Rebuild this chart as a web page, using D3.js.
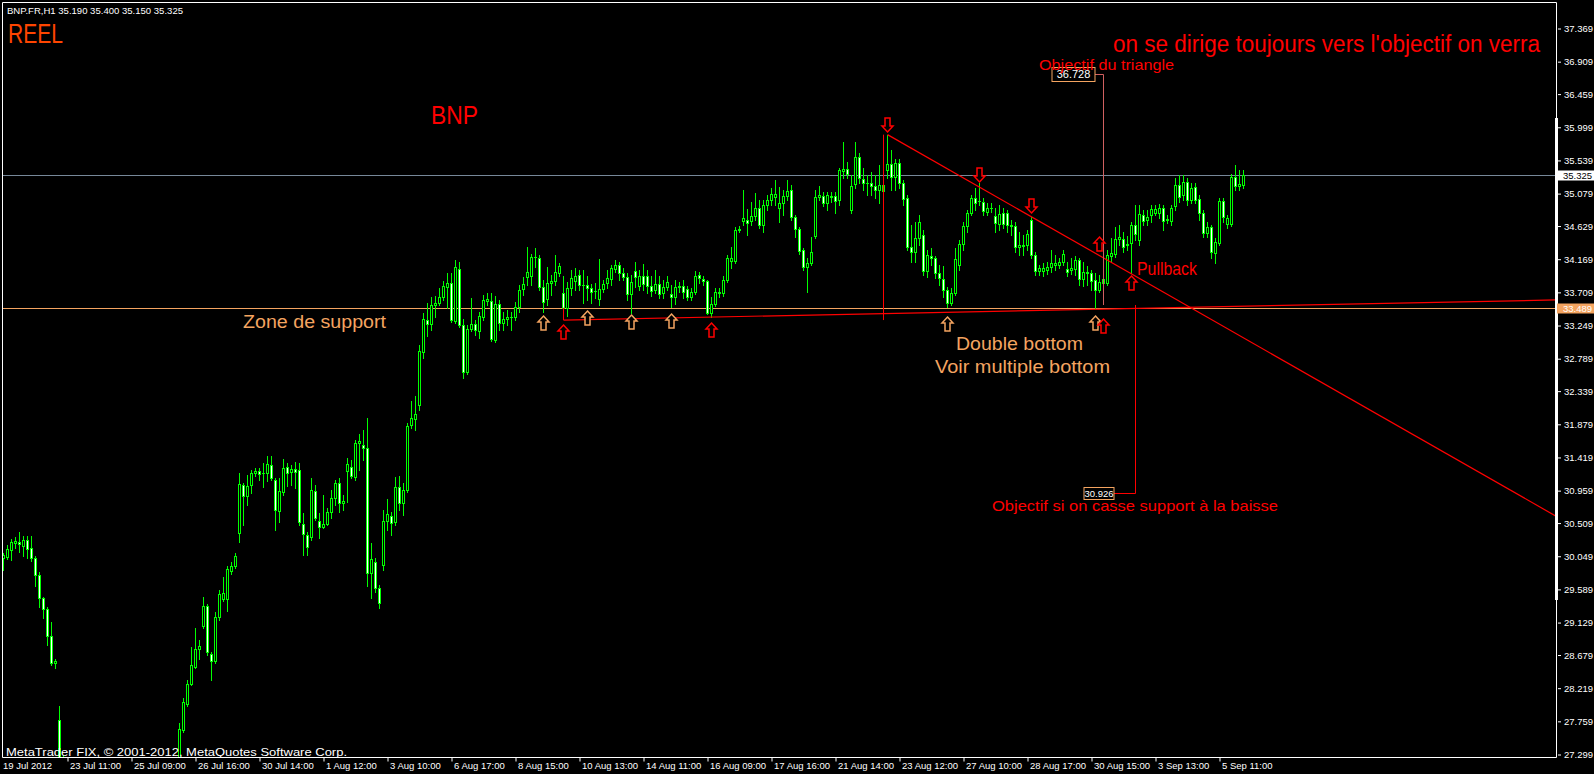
<!DOCTYPE html>
<html>
<head>
<meta charset="utf-8">
<script src="https://cdn.jsdelivr.net/npm/d3@7"></script>
<style>
  html, body { margin: 0; padding: 0; background: #000; overflow: hidden; }
  svg { display: block; }
  text { font-family: "Liberation Sans", Arial, sans-serif; }
</style>
</head>
<body>
<svg id="chart" width="1594" height="774"></svg>
<script>
// ── Data: BNP.FR H1, one entry per bar (19 Jul 2012 13:00 → 5 Sep 2012 17:00) ──
const OPEN = [
  30.02,30.03,30.13,30.23,30.24, 30.18,30.27,30.16,30.02,29.78,29.46,29.31,28.94,28.56,
  27.77,27.05,26.90,26.75,26.62,26.70,26.55,26.48,26.60, 26.70,26.40,26.35,26.45,26.38,26.30,26.42,26.50,26.44,
  26.30,26.28,26.40,26.55,26.62,26.58,26.70,26.66,26.74, 26.85,26.85,26.92,27.05,27.63,27.99,28.27,28.51,28.76,
  29.07,29.35,28.69,28.59,29.20,29.45,29.45,29.84,29.91, 30.36,31.03,30.88,31.03,31.20,31.22,31.20,31.20,31.31,
  31.10,30.67,30.93,31.28,31.21,31.25,31.24,30.49,30.34, 30.31,30.95,30.53,30.45,30.49,30.66,30.85,31.06,30.78,
  31.22,31.28,31.14,31.61,31.59,31.54,29.81,29.96,29.60, 29.92,30.53,30.60,30.52,31.00,30.78,30.96,31.86,31.95,
  32.14,32.88,33.32,33.26,33.53,33.55,33.64,33.78,33.83, 33.31,34.03,33.25,32.60,33.19,33.26,33.17,33.36,33.58,
  33.58,33.04,33.54,33.28,33.33,33.36,33.36,33.50,33.75, 33.92,33.93,34.19,34.18,33.78,33.61,33.83,33.86,33.97,
  33.69,33.49,33.76,33.86,33.94,33.80,33.80,33.76,33.72, 33.61,33.75,33.83,33.89,34.03,34.08,33.97,33.92,33.68,
  34.00,33.79,33.93,33.93,33.79,33.73,33.82,33.69,33.78, 33.68,33.64,33.78,33.79,33.75,33.64,33.71,33.94,33.89,
  33.86,33.42,33.54,33.69,33.69,33.87,34.14,34.14,34.57, 34.69,34.71,34.69,34.76,34.87,34.64,34.91,34.98,35.03,
  34.87,34.94,35.04,35.12,34.75,34.58,34.29,34.05,34.11, 34.48,35.03,35.04,34.94,35.03,35.04,34.98,35.39,35.41,
  34.84,35.21,35.58,35.27,35.22,35.22,35.18,35.12,35.19, 35.40,35.48,35.30,35.50,35.22,35.01,34.33,34.26,34.46,
  34.50,34.00,34.21,34.18,33.97,33.89,33.74,33.55,33.69, 34.08,34.37,34.62,34.80,35.01,34.97,34.96,34.82,34.87,
  34.76,34.65,34.80,34.80,34.64,34.62,34.33,34.35,34.36, 34.71,34.22,34.00,34.00,34.01,34.05,34.08,34.08,34.12,
  34.03,34.01,34.03,34.15,33.89,33.98,33.97,33.87,33.74, 33.83,33.83,34.21,34.23,34.44,34.44,34.36,34.39,34.64,
  34.43,34.77,34.71,34.78,34.80,34.80,34.87,34.71,34.69, 34.90,35.19,35.05,35.23,34.98,35.16,35.00,34.80,34.52,
  34.61,34.25,34.39,34.97,34.65,34.65,35.30,35.18,35.19
];
const HIGH = [
  30.09,30.20,30.28,30.31,30.38, 30.32,30.32,30.32,30.05,29.82,29.48,29.34,29.13,28.62,
  27.96,27.28,27.02,26.86,26.80,26.74,26.60,26.66,26.64, 26.78,26.47,26.52,26.49,26.42,26.48,26.58,26.55,26.47,
  26.36,26.46,26.60,26.68,26.66,26.76,26.74,26.80,26.86, 26.96,27.00,27.14,27.73,28.08,28.33,28.78,29.05,28.88,
  29.48,29.38,28.71,29.27,29.57,29.76,29.91,29.96,30.09, 31.20,31.06,31.17,31.24,31.27,31.27,31.33,31.43,31.43,
  31.13,31.13,31.39,31.33,31.31,31.35,31.33,30.64,30.38, 31.13,31.03,30.64,30.89,30.71,30.96,31.10,31.13,30.89,
  31.41,31.38,31.66,31.74,31.79,31.96,30.23,30.02,29.64, 30.68,30.84,30.66,31.14,31.16,31.06,31.89,32.20,32.27,
  32.97,33.42,33.55,33.64,33.65,33.76,33.86,33.97,33.97, 34.15,34.12,33.33,33.25,33.62,33.32,33.43,33.67,33.69,
  33.69,33.65,33.60,33.43,33.46,33.43,33.57,33.80,33.92, 34.33,34.23,34.32,34.22,33.87,34.05,33.94,34.22,34.11,
  33.93,33.85,34.01,34.04,34.01,34.01,33.93,33.82,33.83, 34.17,33.87,34.01,34.08,34.15,34.12,34.04,33.97,33.94,
  34.12,34.01,34.10,34.01,33.93,34.01,33.93,33.87,33.93, 33.80,33.87,33.85,33.87,33.79,33.76,34.00,33.98,33.93,
  33.87,33.64,33.76,33.76,33.93,34.22,34.33,34.61,34.62, 35.12,34.86,34.96,35.08,34.98,34.98,35.05,35.15,35.26,
  35.16,35.12,35.26,35.19,34.78,34.61,34.32,34.18,34.47, 35.12,35.18,35.09,35.09,35.09,35.09,35.43,35.79,35.51,
  35.33,35.79,35.63,35.43,35.33,35.37,35.33,35.47,35.26, 35.89,35.68,35.55,35.55,35.26,35.05,34.64,34.68,34.78,
  34.57,34.29,34.32,34.21,34.08,34.07,33.78,33.76,34.32, 34.43,34.68,34.84,35.05,35.15,35.22,35.01,34.94,34.94,
  34.87,34.91,34.87,34.84,34.71,34.68,34.54,34.50,34.57, 34.75,34.26,34.08,34.11,34.12,34.29,34.22,34.18,34.29,
  34.12,34.18,34.21,34.18,34.12,34.07,34.01,33.97,33.94, 33.98,34.29,34.46,34.61,34.64,34.54,34.48,34.68,34.91,
  34.91,34.84,34.84,34.91,34.91,34.93,34.91,34.78,34.91, 35.29,35.33,35.33,35.29,35.22,35.22,35.05,34.84,34.68,
  34.64,34.46,35.01,35.01,34.78,35.34,35.47,35.40,35.40
];
const LOW = [
  29.85,30.00,29.99,30.16,30.10, 30.05,30.02,29.98,29.63,29.34,29.19,28.81,28.53,28.49,
  26.95,26.78,26.66,26.55,26.58,26.48,26.40,26.44,26.45, 26.36,26.25,26.30,26.31,26.20,26.26,26.38,26.37,26.30,
  26.15,26.24,26.38,26.50,26.50,26.55,26.58,26.62,26.70, 26.78,26.80,26.88,27.02,27.60,27.97,28.25,28.49,28.62,
  29.05,28.67,28.33,28.56,29.16,29.42,29.28,29.80,29.88, 30.24,30.48,30.75,30.92,31.16,31.10,31.00,31.09,31.10,
  30.41,30.52,30.89,31.02,31.03,30.99,30.48,30.06,30.06, 30.27,30.55,30.30,30.43,30.48,30.57,30.75,30.66,30.68,
  30.79,31.13,31.10,31.24,31.38,29.63,29.46,29.55,29.32, 29.85,30.41,30.34,30.48,30.68,30.61,30.93,31.82,31.79,
  32.07,32.79,33.10,33.18,33.36,33.53,33.60,33.49,33.29, 33.28,33.22,32.51,32.57,33.17,33.11,33.07,33.32,33.53,
  33.03,33.01,33.18,33.18,33.25,33.18,33.32,33.43,33.67, 33.81,33.81,34.05,33.73,33.43,33.53,33.67,33.81,33.93,
  33.46,33.37,33.67,33.74,33.74,33.55,33.60,33.55,33.62, 33.53,33.71,33.76,33.80,33.98,33.87,33.87,33.60,33.42,
  33.78,33.74,33.74,33.69,33.65,33.69,33.62,33.62,33.74, 33.50,33.54,33.71,33.62,33.60,33.60,33.68,33.83,33.80,
  33.40,33.36,33.51,33.64,33.65,33.85,34.04,34.11,34.54, 34.64,34.50,34.64,34.71,34.60,34.54,34.84,34.91,34.91,
  34.68,34.77,34.98,34.71,34.47,34.23,34.01,33.71,34.08, 34.46,34.98,34.90,34.84,34.96,34.80,34.91,35.29,35.29,
  34.80,35.15,35.22,35.12,35.05,35.05,35.01,34.94,35.05, 35.29,35.12,35.12,35.15,34.91,34.29,34.12,34.12,34.36,
  33.94,33.92,34.08,33.90,33.80,33.64,33.50,33.53,33.67, 34.01,34.29,34.54,34.78,34.84,34.91,34.78,34.78,34.82,
  34.54,34.57,34.60,34.54,34.50,34.26,34.22,34.22,34.29, 34.18,33.94,33.94,33.93,33.96,33.98,34.01,34.04,34.08,
  33.93,33.96,33.94,33.80,33.79,33.80,33.74,33.49,33.71, 33.54,33.80,34.12,34.19,34.36,34.26,34.29,33.97,34.43,
  34.36,34.64,34.64,34.68,34.78,34.73,34.57,34.66,34.64, 34.84,34.96,34.98,34.91,34.94,34.94,34.71,34.47,34.47,
  34.18,34.11,34.36,34.68,34.60,34.62,35.12,35.12,35.15
];
const CLOSE = [
  30.06,30.14,30.24,30.25,30.21, 30.27,30.14,30.02,29.78,29.46,29.31,28.94,28.56,28.59,
  27.05,26.90,26.75,26.62,26.70,26.55,26.48,26.60,26.52, 26.40,26.35,26.45,26.38,26.30,26.42,26.50,26.44,26.36,
  26.28,26.40,26.55,26.62,26.58,26.70,26.66,26.74,26.80, 26.85,26.92,27.05,27.65,28.02,28.27,28.53,28.76,28.80,
  29.35,28.71,28.59,29.20,29.52,29.53,29.87,29.91,30.05, 31.04,30.88,31.02,31.20,31.22,31.18,31.20,31.32,31.13,
  30.68,30.95,31.27,31.20,31.25,31.21,30.52,30.35,30.17, 30.96,30.57,30.45,30.49,30.66,30.85,31.06,30.78,30.81,
  31.32,31.16,31.61,31.64,31.54,29.81,30.00,29.60,29.39, 30.53,30.63,30.50,31.00,30.78,30.96,31.85,31.96,32.02,
  32.89,33.33,33.26,33.53,33.55,33.64,33.79,33.83,33.32, 34.05,33.25,32.60,33.19,33.26,33.18,33.37,33.60,33.61,
  33.06,33.54,33.28,33.33,33.36,33.36,33.50,33.74,33.82, 33.98,34.19,34.19,33.78,33.57,33.83,33.86,33.98,34.07,
  33.49,33.76,33.90,33.93,33.80,33.80,33.76,33.71,33.72, 33.75,33.82,33.90,34.04,34.08,33.97,33.92,33.68,33.85,
  33.92,33.93,33.82,33.79,33.72,33.82,33.68,33.78,33.85, 33.64,33.78,33.79,33.71,33.64,33.71,33.93,33.90,33.86,
  33.42,33.54,33.71,33.71,33.87,34.18,34.18,34.57,34.58, 34.73,34.66,34.76,34.87,34.64,34.91,34.98,35.07,35.07,
  34.94,35.04,35.11,34.75,34.58,34.28,34.05,34.11,34.26, 35.03,35.05,34.94,35.05,35.04,34.97,35.40,35.41,35.34,
  35.18,35.58,35.29,35.22,35.22,35.18,35.12,35.19,35.11, 35.48,35.30,35.50,35.22,35.00,34.33,34.26,34.46,34.68,
  34.00,34.22,34.18,33.97,33.90,33.74,33.55,33.69,34.17, 34.37,34.62,34.80,35.01,34.94,34.97,34.83,34.87,34.87,
  34.66,34.79,34.65,34.64,34.62,34.33,34.36,34.36,34.51, 34.22,34.00,34.04,34.04,34.05,34.11,34.11,34.12,34.23,
  33.98,34.04,34.15,33.89,33.98,33.97,33.86,33.74,33.85, 33.89,34.22,34.25,34.44,34.47,34.33,34.37,34.64,34.51,
  34.79,34.69,34.75,34.86,34.86,34.87,34.69,34.72,34.87, 35.19,35.03,35.23,34.98,35.15,34.98,34.80,34.52,34.61,
  34.26,34.40,34.97,34.75,34.73,35.30,35.18,35.21,35.325
];

// price scale labels (right axis)
const Y_TICKS = [37.369, 36.909, 36.459, 35.999, 35.539, 35.079, 34.629, 34.169, 33.709, 33.249,
                 32.789, 32.339, 31.879, 31.419, 30.959, 30.509, 30.049, 29.589, 29.129, 28.679,
                 28.219, 27.759, 27.299];
// time scale labels (bottom axis): bar index + text
const X_TICK_BARS = [16, 32, 48, 64, 80, 96, 112, 128, 144, 160, 176, 192, 208, 224, 240, 256, 272, 288, 304];
const X_TICK_TEXT = ["23 Jul 11:00", "25 Jul 09:00", "26 Jul 16:00", "30 Jul 14:00", "1 Aug 12:00",
                     "3 Aug 10:00", "6 Aug 17:00", "8 Aug 15:00", "10 Aug 13:00", "14 Aug 11:00",
                     "16 Aug 09:00", "17 Aug 16:00", "21 Aug 14:00", "23 Aug 12:00", "27 Aug 10:00",
                     "28 Aug 17:00", "30 Aug 15:00", "3 Sep 13:00", "5 Sep 11:00"];

const BID         = 35.325;
const SUPPORT     = 33.489;
const TARGET_UP   = 36.728;
const TARGET_DOWN = 30.926;

// ── Dimensions ────────────────────────────────────────────────────────────────
const W = 1594, H = 774;
const plot = { left: 2, top: 2, right: 1556, bottom: 757 };

const svg = d3.select("#chart");
svg.append("rect").attr("width", W).attr("height", H).attr("fill", "#000");

// ── Scales ────────────────────────────────────────────────────────────────────
const x = d3.scaleLinear().domain([0, 310]).range([3.5, 1243.5]);
const y = d3.scaleLinear().domain([27.299, 37.369]).range([754, 28]);
const py = v => Math.round(y(v));

const COL = {
  bar: "#00ff00", axis: "#ffffff", bid: "#778899",
  sandy: "#f4a460", red: "#ff0000", orange: "#ff4500"
};

svg.append("clipPath").attr("id", "plot-clip")
  .append("rect")
  .attr("x", plot.left).attr("y", plot.top)
  .attr("width", plot.right - plot.left).attr("height", plot.bottom - plot.top);

const g = svg.append("g").attr("clip-path", "url(#plot-clip)");

// ── Horizontal price lines ────────────────────────────────────────────────────
g.append("line")
  .attr("x1", plot.left).attr("x2", plot.right)
  .attr("y1", py(BID) + 0.5).attr("y2", py(BID) + 0.5)
  .attr("stroke", COL.bid);
g.append("line")
  .attr("x1", plot.left).attr("x2", plot.right)
  .attr("y1", py(SUPPORT) + 0.5).attr("y2", py(SUPPORT) + 0.5)
  .attr("stroke", COL.sandy);

// ── Candles ───────────────────────────────────────────────────────────────────
const bars = CLOSE.map((c, i) => ({ i, o: OPEN[i], h: HIGH[i], l: LOW[i], c }));

const candle = g.append("g").selectAll("g").data(bars).join("g");

candle.append("rect")   // wick
  .attr("x", d => Math.floor(x(d.i)))
  .attr("width", 1)
  .attr("y", d => py(d.h))
  .attr("height", d => Math.max(1, py(d.l) - py(d.h) + 1))
  .attr("fill", COL.bar);

candle.each(function (d) {
  const sel = d3.select(this);
  const top = py(Math.max(d.o, d.c)), bot = py(Math.min(d.o, d.c));
  const cx = Math.floor(x(d.i));
  if (bot - top < 1) {
    sel.append("rect")
      .attr("x", cx - 1).attr("width", 3)
      .attr("y", top).attr("height", 1)
      .attr("fill", COL.bar);
  } else {
    sel.append("rect")   // body
      .attr("x", cx - 0.5).attr("width", 2)
      .attr("y", top + 0.5).attr("height", bot - top)
      .attr("fill", d.c > d.o ? "#000" : "#fff")
      .attr("stroke", COL.bar).attr("stroke-width", 1);
  }
});

// ── Trend lines & objectives ─────────────────────────────────────────────────
// support line through two lows, extended as a ray
const supA = { i: 140, p: 33.318 }, supB = { i: 275, p: 33.47 };
const supEnd = x.invert(plot.right);
const supP = supA.p + (supB.p - supA.p) * (supEnd - supA.i) / (supB.i - supA.i);
g.append("line")
  .attr("x1", x(supA.i)).attr("y1", y(supA.p))
  .attr("x2", plot.right).attr("y2", y(supP))
  .attr("stroke", COL.red).attr("stroke-width", 1.2);
g.append("line")
  .attr("x1", x(supA.i)).attr("x2", x(supA.i))
  .attr("y1", y(SUPPORT)).attr("y2", y(supA.p))
  .attr("stroke", COL.red);

// descending triangle side, ray to the right edge
const resA = { i: 221, p: 35.89 }, resB = { i: 257, p: 34.75 };
const resP = resA.p + (resB.p - resA.p) * (supEnd - resA.i) / (resB.i - resA.i);
g.append("line")
  .attr("x1", x(resA.i)).attr("y1", y(resA.p))
  .attr("x2", plot.right).attr("y2", y(resP))
  .attr("stroke", COL.red).attr("stroke-width", 1.2);

// height of the triangle
g.append("line")
  .attr("x1", x(220)).attr("x2", x(220))
  .attr("y1", y(35.89)).attr("y2", y(33.318))
  .attr("stroke", COL.red);

// objective lines
g.append("path")
  .attr("d", `M${x(275) - 9},${py(TARGET_UP) + 0.5}H${x(275)}V${py(33.52)}`)
  .attr("fill", "none").attr("stroke", "#d06060");
g.append("path")
  .attr("d", `M${x(283) - 22},${py(TARGET_DOWN) + 0.5}H${x(283)}V${py(33.52)}`)
  .attr("fill", "none").attr("stroke", COL.red);

function priceBox(cx, p, w, h, fs) {
  const yy = py(p);
  svg.append("rect")
    .attr("x", cx - w + 0.5).attr("y", yy - h / 2 + 0.5)
    .attr("width", w).attr("height", h)
    .attr("fill", "#000").attr("stroke", COL.sandy);
  svg.append("text")
    .attr("x", cx - w / 2 + 0.5).attr("y", yy + fs * 0.36 + 0.5)
    .attr("text-anchor", "middle")
    .attr("fill", "#ffffff").style("font-size", fs + "px")
    .text(p.toFixed(3));
}
priceBox(x(275) - 9, TARGET_UP, 43, 14, 11);
priceBox(x(283) - 22, TARGET_DOWN, 30, 12, 9.5);

// ── Arrows ────────────────────────────────────────────────────────────────────
const ARROWS_UP = [
  { i: 135, p: 33.37, c: "sandy" }, { i: 140, p: 33.25, c: "red" }, { i: 146, p: 33.44, c: "sandy" },
  { i: 157, p: 33.39, c: "sandy" }, { i: 167, p: 33.40, c: "sandy" }, { i: 177, p: 33.28, c: "red" },
  { i: 236, p: 33.36, c: "sandy" }, { i: 273, p: 33.37, c: "sandy" }, { i: 275, p: 33.33, c: "red" },
  { i: 274, p: 34.47, c: "red" }, { i: 282, p: 33.93, c: "red" }
];
const ARROWS_DOWN = [
  { i: 221, p: 35.93 }, { i: 244, p: 35.23 }, { i: 257, p: 34.80 }
];

function arrowPath(cx, tip, dir) {
  const s = dir;   // +1 points up (tip on top), -1 points down
  return `M${cx},${tip}` +
    `L${cx + 5.5},${tip + s * 6}L${cx + 2.5},${tip + s * 6}L${cx + 2.5},${tip + s * 14}` +
    `L${cx - 2.5},${tip + s * 14}L${cx - 2.5},${tip + s * 6}L${cx - 5.5},${tip + s * 6}Z`;
}
svg.append("g").selectAll("path").data(ARROWS_UP).join("path")
  .attr("d", d => arrowPath(x(d.i), py(d.p), 1))
  .attr("fill", "#000").attr("stroke", d => COL[d.c]).attr("stroke-width", 1.5);
svg.append("g").selectAll("path").data(ARROWS_DOWN).join("path")
  .attr("d", d => arrowPath(x(d.i), py(d.p), -1))
  .attr("fill", "#000").attr("stroke", COL.red).attr("stroke-width", 1.5);

// ── Text annotations ─────────────────────────────────────────────────────────
const NOTES = [
  { t: "REEL", x: 8, y: 43, fs: 27, len: 55, c: COL.orange },
  { t: "BNP", x: 431, y: 124, fs: 25, len: 47, c: COL.red },
  { t: "on se dirige toujours vers l'objectif on verra", x: 1113, y: 52, fs: 23, len: 427, c: COL.red },
  { t: "Objectif du triangle", x: 1039, y: 70, fs: 15, len: 135, c: COL.red },
  { t: "Zone de support", x: 243, y: 328, fs: 18, len: 143, c: COL.sandy },
  { t: "Double bottom", x: 956, y: 350, fs: 19, len: 127, c: COL.sandy },
  { t: "Voir multiple bottom", x: 935, y: 373, fs: 19, len: 175, c: COL.sandy },
  { t: "Pullback", x: 1137, y: 275, fs: 19, len: 60, c: COL.red },
  { t: "Objectif si on casse support à la baisse", x: 992, y: 511, fs: 15, len: 286, c: COL.red }
];
svg.append("g").selectAll("text").data(NOTES).join("text")
  .attr("x", d => d.x).attr("y", d => d.y)
  .attr("fill", d => d.c).style("font-size", d => d.fs + "px")
  .attr("textLength", d => d.len).attr("lengthAdjust", "spacingAndGlyphs")
  .text(d => d.t);

svg.append("text")
  .attr("x", 7).attr("y", 13.5)
  .attr("fill", "#ffffff").style("font-size", "9.5px")
  .attr("textLength", 176).attr("lengthAdjust", "spacingAndGlyphs")
  .text("BNP.FR,H1  35.190 35.400 35.150 35.325");

svg.append("text")
  .attr("x", 6).attr("y", 755.5)
  .attr("fill", "#ffffff").style("font-size", "11.5px")
  .attr("textLength", 341).attr("lengthAdjust", "spacingAndGlyphs")
  .text("MetaTrader FIX, © 2001-2012, MetaQuotes Software Corp.");

// ── Frame ─────────────────────────────────────────────────────────────────────
svg.append("path")
  .attr("d", `M${plot.left + 0.5},${plot.bottom + 0.5}V${plot.top + 0.5}H${plot.right + 0.5}V${plot.bottom + 0.5}Z`)
  .attr("fill", "none").attr("stroke", COL.axis);
svg.append("line")
  .attr("x1", plot.right + 0.5).attr("x2", plot.right + 0.5)
  .attr("y1", 118).attr("y2", 600)
  .attr("stroke", COL.axis).attr("stroke-width", 3);

// ── Right price axis ─────────────────────────────────────────────────────────
const yAxis = d3.axisRight(y)
  .tickValues(Y_TICKS).tickFormat(d3.format(".3f"))
  .tickSize(3).tickPadding(3);
const yAxisG = svg.append("g")
  .attr("transform", `translate(${plot.right + 2},0.5)`)
  .call(yAxis);
yAxisG.select(".domain").remove();
yAxisG.selectAll("line").attr("stroke", COL.axis);
yAxisG.selectAll("text")
  .attr("fill", COL.axis).style("font-size", "9.5px")
  .style("font-family", "'Liberation Sans', Arial, sans-serif");

function axisTag(p, bg, fg) {
  const yy = py(p);
  svg.append("rect")
    .attr("x", plot.right + 1).attr("y", yy - 4.5)
    .attr("width", W - plot.right - 1).attr("height", 10)
    .attr("fill", bg);
  svg.append("text")
    .attr("x", plot.right + 7).attr("y", yy + 3.5)
    .attr("fill", fg).style("font-size", "9.5px")
    .text(p.toFixed(3));
}
axisTag(BID, "#ffffff", "#000000");
axisTag(SUPPORT, COL.sandy, "#ffffff");

// ── Bottom time axis ─────────────────────────────────────────────────────────
const xAxis = d3.axisBottom(x)
  .tickValues(X_TICK_BARS)
  .tickFormat((d, k) => X_TICK_TEXT[k])
  .tickSize(4).tickPadding(2);
const xAxisG = svg.append("g")
  .attr("transform", `translate(0,${plot.bottom + 0.5})`)
  .call(xAxis);
xAxisG.select(".domain").remove();
xAxisG.selectAll("line").attr("stroke", COL.axis);
xAxisG.selectAll("text")
  .attr("fill", COL.axis).style("font-size", "9.5px")
  .style("font-family", "'Liberation Sans', Arial, sans-serif")
  .attr("text-anchor", "start").attr("x", 2).attr("dy", "0.55em");

svg.append("text")
  .attr("x", 3).attr("y", 769)
  .attr("fill", COL.axis).style("font-size", "9.5px")
  .text("19 Jul 2012");
</script>
</body>
</html>
